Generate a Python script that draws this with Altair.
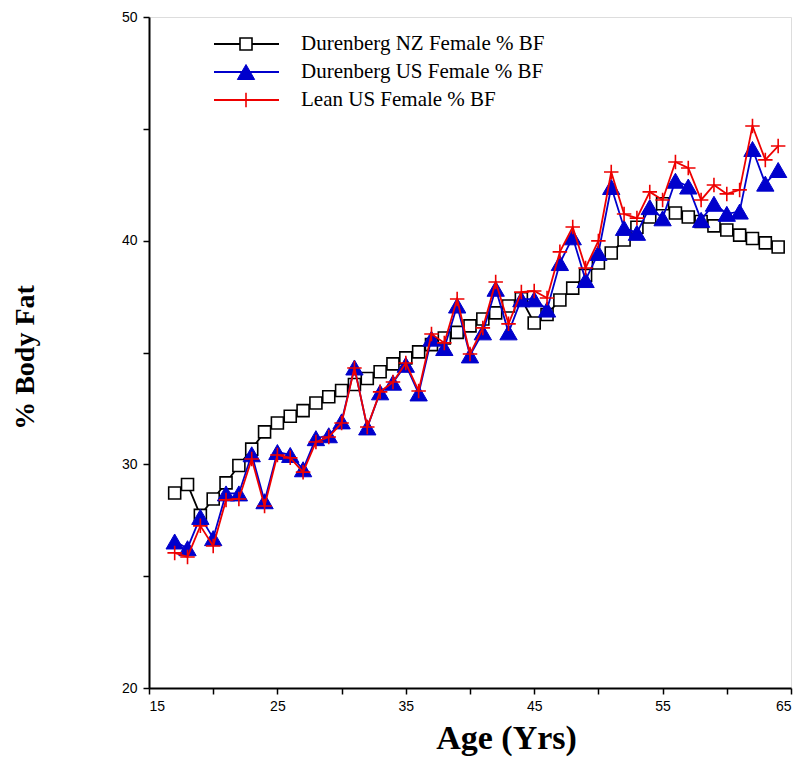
import altair as alt
import pandas as pd

ages = list(range(17, 65))

nz_female = [28.72, 29.10, 27.72, 28.45, 29.17, 29.95, 30.68, 31.45, 31.85, 32.15,
             32.40, 32.74, 33.02, 33.30, 33.57, 33.84, 34.14, 34.49, 34.76, 35.03,
             35.35, 35.65, 35.90, 36.19, 36.50, 36.77, 37.08, 37.40, 36.32, 36.70,
             37.35, 37.88, 38.45, 39.00, 39.45, 40.03, 40.60, 41.06, 41.65, 41.24,
             41.06, 40.86, 40.66, 40.48, 40.25, 40.10, 39.90, 39.72]

us_female = [26.55, 26.25, 27.65, 26.70, 28.70, 28.70, 30.45, 28.35, 30.55, 30.42,
             29.78, 31.17, 31.30, 31.92, 34.33, 31.65, 33.22, 33.65, 34.45, 33.17,
             35.62, 35.20, 37.10, 34.87, 35.90, 37.85, 35.90, 37.38, 37.38, 36.92,
             39.00, 40.15, 38.24, 39.45, 42.40, 40.57, 40.35, 41.50, 41.00, 42.68,
             42.42, 40.93, 41.65, 41.20, 41.30, 44.10, 42.55, 43.16]

lean_us_female = [26.04, 25.86, 27.25, 26.35, 28.41, 28.45, 30.24, 28.14, 30.42, 30.29,
                  29.65, 31.00, 31.22, 31.85, 34.31, 31.67, 33.24, 33.68, 34.53, 33.28,
                  35.83, 35.43, 37.39, 34.93, 36.10, 38.15, 36.28, 37.70, 37.75, 37.44,
                  39.50, 40.61, 38.78, 39.99, 43.07, 41.19, 41.01, 42.18, 41.82, 43.52,
                  43.25, 41.82, 42.49, 42.09, 42.27, 45.13, 43.61, 44.23]

series_names = ["Durenberg NZ Female % BF", "Durenberg US Female % BF", "Lean US Female % BF"]
x_ticks = [15, 20, 25, 30, 35, 40, 45, 50, 55, 60, 65]
y_ticks = [20, 25, 30, 35, 40, 45, 50]

W, H = 642, 671
PLUS = "M-1,0H1M0,-1V1"

xs = alt.Scale(domain=[15, 65], nice=False, zero=False)
ys = alt.Scale(domain=[20, 50], nice=False, zero=False)

x_axis = alt.Axis(values=x_ticks, labelExpr="datum.value % 10 == 5 ? datum.label : ''",
                  title="Age (Yrs)", grid=False, tickSize=6, tickColor="black",
                  domainColor="black", domainWidth=2, tickWidth=1.5,
                  labelFont="Liberation Sans", labelFontSize=14, labelColor="black",
                  labelPadding=5, titleFont="Liberation Serif", titleFontSize=34,
                  titleFontWeight="bold", titleColor="black", titleX=357, titleY=60,
                  titleAlign="center", titleBaseline="alphabetic")
y_axis = alt.Axis(values=y_ticks, labelExpr="datum.value % 10 == 0 ? datum.label : ''",
                  title="% Body Fat", grid=False, tickSize=6, tickColor="black",
                  domainColor="black", domainWidth=2, tickWidth=1.5,
                  labelFont="Liberation Sans", labelFontSize=14, labelColor="black",
                  labelPadding=6, titleFont="Liberation Serif", titleFontSize=28,
                  titleFontWeight="bold", titleColor="black", titleX=-116, titleY=340,
                  titleAngle=270, titleAlign="center", titleBaseline="alphabetic")

styles = [
    dict(color="black", shape="square", fill="white", stroke="black", size=144, sw=1.6, filled=True),
    dict(color="#0000cc", shape="triangle-up", fill="#0000cc", stroke="#0000cc", size=300, sw=1, filled=True),
    dict(color="#ee0000", shape=PLUS, fill=None, stroke="#ee0000", size=210, sw=1.6, filled=False),
]
values_list = [nz_female, us_female, lean_us_female]


def point_kwargs(st):
    pkw = dict(shape=st["shape"], size=st["size"], stroke=st["stroke"],
               strokeWidth=st["sw"], opacity=1, filled=st["filled"])
    if st["filled"]:
        pkw["fill"] = st["fill"]
    return pkw


layers = []
for name, vals, st in zip(series_names, values_list, styles):
    df = pd.DataFrame({"age": ages, "bf": vals, "series": name})
    base = alt.Chart(df)
    line = base.mark_line(color=st["color"], strokeWidth=1.8).encode(
        x=alt.X("age:Q", scale=xs, axis=x_axis),
        y=alt.Y("bf:Q", scale=ys, axis=y_axis),
    )
    pts = base.mark_point(**point_kwargs(st)).encode(x="age:Q", y="bf:Q")
    layers += [line, pts]

# legend inside plot
leg_df = pd.DataFrame({"series": series_names})
for i, (name, st) in enumerate(zip(series_names, styles)):
    d = leg_df[leg_df.series == name]
    yy = 27 + 28 * i
    lb = alt.Chart(d)
    layers.append(lb.mark_rule(color=st["color"], strokeWidth=1.8).encode(
        x=alt.value(65), x2=alt.value(130), y=alt.value(yy)))
    layers.append(lb.mark_point(**point_kwargs(st)).encode(x=alt.value(97), y=alt.value(yy)))
    layers.append(lb.mark_text(align="left", baseline="middle", font="Liberation Serif",
                               fontSize=21, color="black").encode(
        x=alt.value(152), y=alt.value(yy), text="series:N"))

chart = alt.layer(*layers).properties(
    width=W, height=H,
    autosize=alt.AutoSizeParams(type="none"),
    padding={"left": 141, "top": 9, "right": 2, "bottom": 80},
).configure_view(stroke="black", strokeWidth=1.5).configure(background="white")

chart.save("out.html", embed_options={"renderer": "svg", "actions": False})
